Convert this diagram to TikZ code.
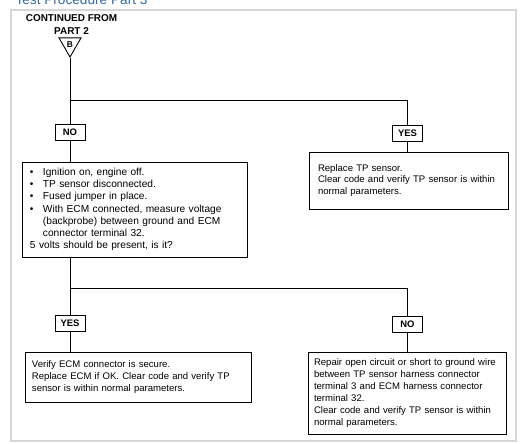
\documentclass[tikz,border=0pt]{standalone}
\usepackage{fontspec}
\setmainfont{Liberation Sans}
\usetikzlibrary{shapes.geometric}
\definecolor{titleblue}{RGB}{52,104,160}
\definecolor{framegray}{RGB}{214,214,214}
\newcommand{\itm}{\makebox[13bp][l]{\textbullet}}
\newcommand{\ind}{\hspace*{13bp}}

\begin{document}
\begin{tikzpicture}[x=1bp, y=-1bp,
  font=\fontsize{9.6}{12}\selectfont,
  stepbox/.style={draw, line width=0.9pt, align=left, inner ysep=3bp},
  answer/.style={draw, line width=0.9pt, font=\fontsize{9.5}{11}\selectfont\bfseries, minimum width=30bp, minimum height=16bp, inner sep=1bp},
  link/.style={draw, line width=1pt}
]
\useasboundingbox (0,0) rectangle (524,444);
\draw[framegray, line width=1.5bp] (11,10) rectangle (516,441);
\node[anchor=base west, text=titleblue, font=\fontsize{13.7}{16}\selectfont] (title) at (12,5) {Test Procedure Part 3};

% start marker
\node[font=\fontsize{10}{13}\selectfont\bfseries, align=center] (cont) at (71.5,25) {CONTINUED FROM\\PART 2};
\node[draw, line width=0.9pt, regular polygon, regular polygon sides=3, shape border rotate=180,
  minimum size=25.4bp, inner sep=0pt, font=\fontsize{8.5}{9}\selectfont\bfseries] (conB) at (70,44.3) {B};

\coordinate (j1) at (70,101);
\coordinate (j2) at (70,288);

% first test
\node[answer] (no1) at (70,132.5) {NO};
\node[answer] (yes1) at (407.5,133) {YES};

\node[stepbox, font=\fontsize{10.2}{12.2}\selectfont, text width=209bp, inner xsep=8bp, minimum height=95bp] (check) at (134.5,209.5)
  {\itm Ignition on, engine off.\\
   \itm TP sensor disconnected.\\
   \itm Fused jumper in place.\\
   \itm With ECM connected, measure voltage\\
   \ind (backprobe) between ground and ECM\\
   \ind connector terminal 32.\\
   5 volts should be present, is it?};
\node[stepbox, text width=181bp, inner xsep=9bp, minimum height=57bp] (replace) at (408.5,180.5)
  {Replace TP sensor.\\
   Clear code and verify TP sensor is within\\
   normal parameters.};

% second result
\node[answer] (yes2) at (70,323.5) {YES};
\node[answer] (no2) at (407.5,324) {NO};

\node[stepbox, text width=212bp, inner xsep=7bp, minimum height=50bp] (ecm) at (138,377)
  {Verify ECM connector is secure.\\
   Replace ECM if OK. Clear code and verify TP\\
   sensor is within normal parameters.};
\node[stepbox, text width=186bp, inner xsep=6bp, minimum height=82bp] (repair) at (407,393)
  {Repair open circuit or short to ground wire\\
   between TP sensor harness connector\\
   terminal 3 and ECM harness connector\\
   terminal 32.\\
   Clear code and verify TP sensor is within\\
   normal parameters.};

\draw[link] (conB.corner 1) -- (no1.north);
\draw[link] (j1) -| (yes1.north);
\draw[link] (no1.south) -- (no1.south |- check.north);
\draw[link] (yes1.south) -- (yes1.south |- replace.north);
\draw[link] (check.south -| j2) -- (yes2.north);
\draw[link] (j2) -| (no2.north);
\draw[link] (yes2.south) -- (yes2.south |- ecm.north);
\draw[link] (no2.south) -- (no2.south |- repair.north);

\end{tikzpicture}
\end{document}
